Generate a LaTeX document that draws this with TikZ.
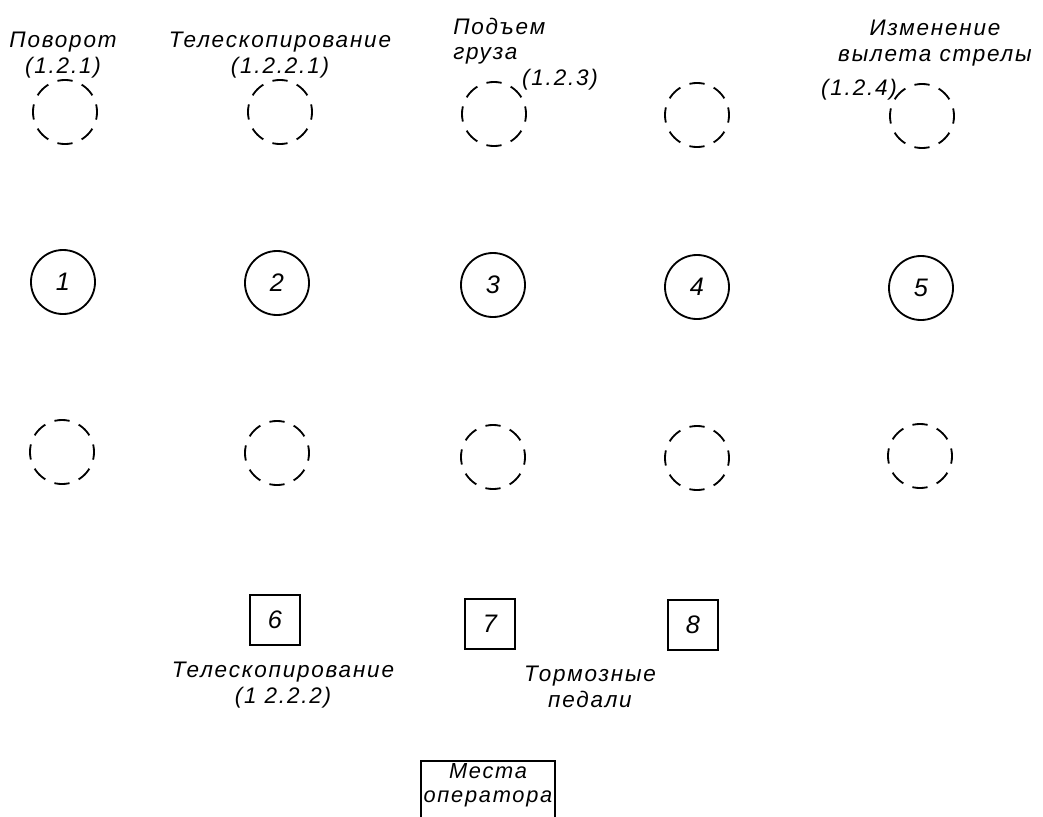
\documentclass[tikz,border=0pt]{standalone}
\usepackage{fontspec}
\setmainfont{Liberation Sans}
\newfontfamily\drawfont[LetterSpace=8]{Liberation Sans}

\tikzset{
  ctrl/.style={circle, draw, line width=1.3pt, minimum size=1.6cm, inner sep=0pt,
    font=\drawfont\itshape\fontsize{18}{18}\selectfont},
  spare/.style={circle, draw, line width=1.3pt, minimum size=1.6cm, inner sep=0pt,
    dash pattern=on 0.38cm off 0.248cm, dash phase=0.19cm},
  pedal/.style={rectangle, draw, line width=1.3pt, minimum size=1.25cm, inner sep=0pt,
    font=\drawfont\itshape\fontsize{18}{18}\selectfont},
  seat/.style={rectangle, draw, line width=1.3pt, inner sep=2pt, minimum width=3.33cm,
    minimum height=1.6cm, align=center, font=\drawfont\itshape\fontsize{15.5}{17}\selectfont},
  lbl/.style={inner sep=0pt, align=center, font=\drawfont\itshape\fontsize{16}{18}\selectfont},
}

\begin{document}
\begin{tikzpicture}[x=0.025cm, y=-0.025cm]

    \useasboundingbox (0,0) rectangle (1043,816);

    % Top row (spare positions)
    \node[spare] (t1) at (65,112) {};
    \node[spare] (t2) at (280,112) {};
    \node[spare] (t3) at (494,114) {};
    \node[spare] (t4) at (697,115) {};
    \node[spare] (t5) at (922,116) {};

    % Middle row (levers)
    \node[ctrl] (m1) at (63,282) {1};
    \node[ctrl] (m2) at (277,283) {2};
    \node[ctrl] (m3) at (493,285) {3};
    \node[ctrl] (m4) at (697,287) {4};
    \node[ctrl] (m5) at (921,288) {5};

    % Bottom row (spare positions)
    \node[spare] (b1) at (62,452) {};
    \node[spare] (b2) at (277,453) {};
    \node[spare] (b3) at (493,457) {};
    \node[spare] (b4) at (697,458) {};
    \node[spare] (b5) at (920,456) {};

    % Pedals
    \node[pedal] (p6) at (275,620) {6};
    \node[pedal] (p7) at (490,624) {7};
    \node[pedal] (p8) at (693,625) {8};

    % Operator seat
    \node[seat, anchor=north] (seat) at (488,760) {Места\\оператора\\[12pt]};

    % Labels
    \node[lbl] (l_turn) at (63,55) {Поворот\\(1.2.1)};
    \node[lbl] (l_tel1) at (280,55) {Телескопирование\\(1.2.2.1)};
    \node[lbl, align=left, anchor=north west] (l_lift) at (453,18) {Подъем\\груза};
    \node[lbl] (l_lift_n) at (560,80) {(1.2.3)};
    \node[lbl] (l_boom) at (935,43) {Изменение\\вылета стрелы};
    \node[lbl] (l_boom_n) at (859,90) {(1.2.4)};
    \node[lbl] (l_tel2) at (283,685) {Телескопирование\\(1 2.2.2)};
    \node[lbl] (l_brake) at (590,687) {Тормозные\\педали};

\end{tikzpicture}
\end{document}
